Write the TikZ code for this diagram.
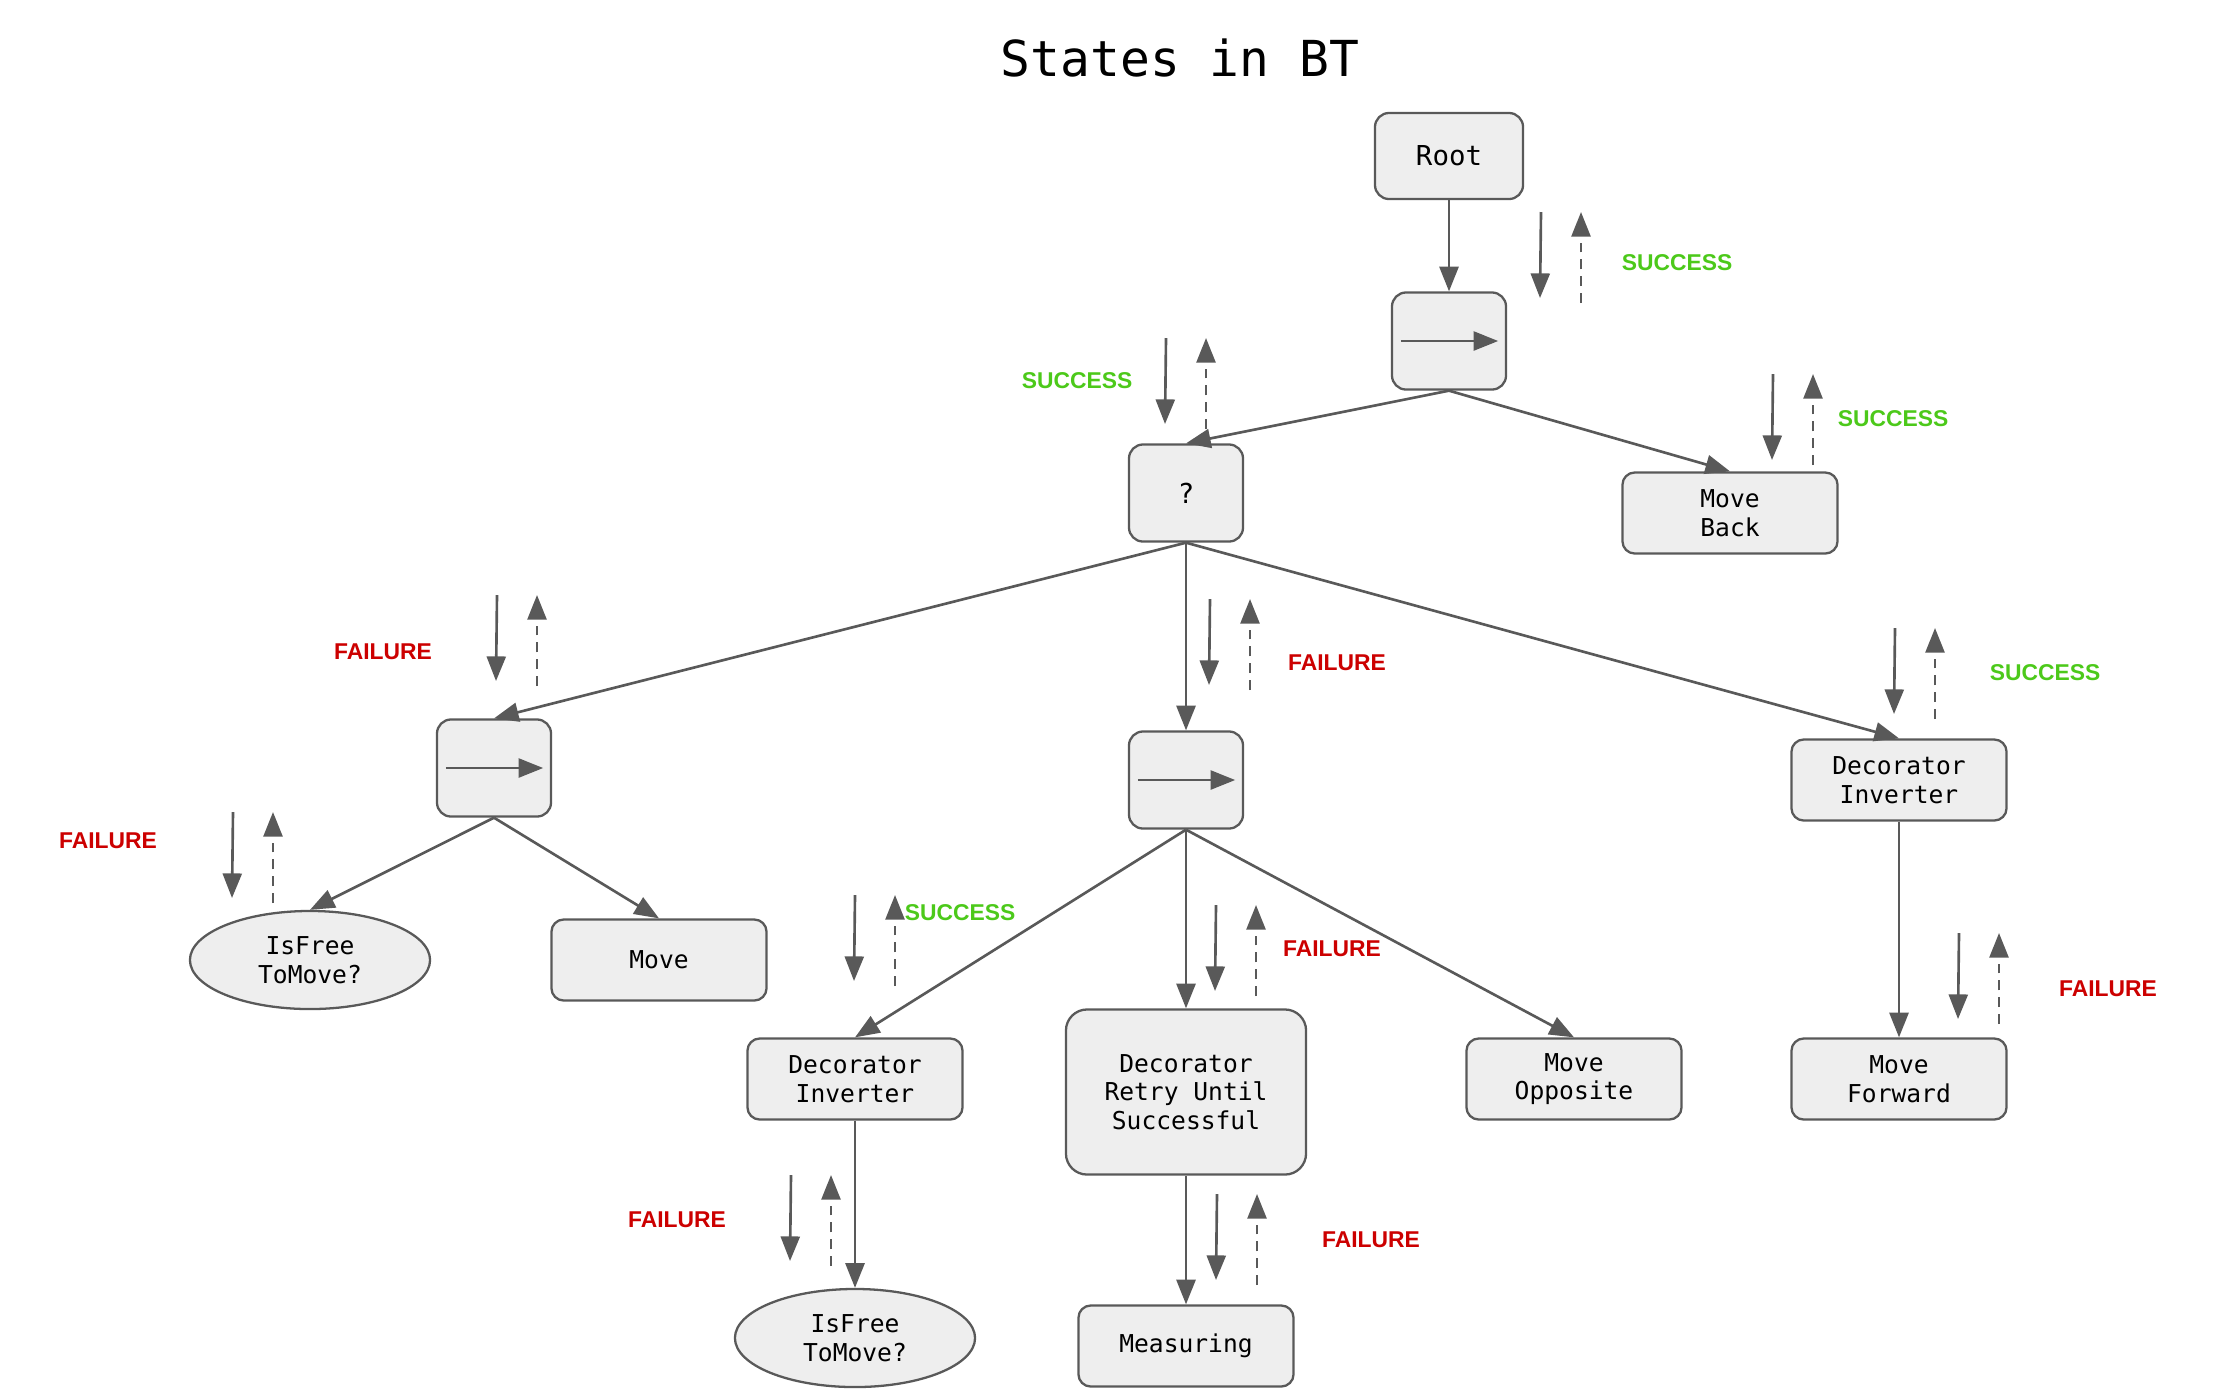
\documentclass[tikz,border=0pt]{standalone}
\usepackage{fontspec}
\usepackage{xcolor}
\usepackage{tikz}
\usetikzlibrary{arrows.meta,calc,shapes.geometric}
\newfontfamily\monofont{DejaVu Sans Mono}
\newfontfamily\labfont{Liberation Sans}
\definecolor{edgegray}{HTML}{595959}
\definecolor{boxfill}{HTML}{EEEEEE}
\definecolor{okgreen}{HTML}{4CC91A}
\definecolor{badred}{HTML}{CC0000}

\tikzset{
  btnode/.style={draw=edgegray,fill=boxfill,line width=0.65pt,align=center,inner sep=0pt,
    font=\monofont\fontsize{7}{8.1}\selectfont},
  leaf/.style={btnode,rounded corners=3.5pt,minimum width=2.15cm,minimum height=0.81cm},
  seqbox/.style={btnode,rounded corners=4pt,minimum width=1.14cm,minimum height=0.97cm},
  cond/.style={btnode,ellipse,minimum width=2.4cm,minimum height=0.98cm},
  edge/.style={draw=edgegray,line width=0.75pt,-{Triangle[length=7pt,width=5.4pt]}},
  okstate/.style={text=okgreen,font=\labfont\bfseries\fontsize{6.5}{7}\selectfont},
  failstate/.style={text=badred,font=\labfont\bfseries\fontsize{6.5}{7}\selectfont}
}

\begin{document}
\begin{tikzpicture}[x=0.01cm,y=-0.01cm]
\useasboundingbox (0,0) rectangle (2227,1399);
\node[font=\monofont\fontsize{14.1}{16}\selectfont] (title) at (1180,58) {States in BT};

% tree
\node[btnode,rounded corners=4pt,minimum width=1.48cm,minimum height=0.86cm,
  font=\monofont\fontsize{7.8}{9}\selectfont] (root) at (1449,156) {Root};
\node[seqbox] (seq1) at (1449,341) {};
\node[seqbox,font=\monofont\fontsize{7.8}{9}\selectfont] (sel) at (1186,493) {?};
\node[leaf] (back) at (1730,513) {Move\\Back};
\node[seqbox] (seq2) at (494,768) {};
\node[seqbox] (seq3) at (1186,780) {};
\node[leaf] (invR) at (1899,780) {Decorator\\Inverter};
\node[cond] (free1) at (310,960) {IsFree\\ToMove?};
\node[leaf] (move) at (659,960) {Move};
\node[leaf] (invM) at (855,1079) {Decorator\\Inverter};
\node[leaf,rounded corners=6pt,minimum width=2.4cm,minimum height=1.65cm] (retry) at (1186,1092) {Decorator\\Retry Until\\Successful};
\node[leaf] (opp) at (1574,1079) {Move\\Opposite};
\node[leaf] (fwd) at (1899,1079) {Move\\Forward};
\node[cond] (free2) at (855,1338) {IsFree\\ToMove?};
\node[leaf] (meas) at (1186,1346) {Measuring};

\draw[edge] (root.south) -- (seq1.north);
\draw[edge] (seq1.south) -- (sel.north);
\draw[edge] (seq1.south) -- (back.north);
\draw[edge] (sel.south) -- (seq2.north);
\draw[edge] (sel.south) -- (seq3.north);
\draw[edge] (sel.south) -- (invR.north);
\draw[edge] (seq2.south) -- (free1.north);
\draw[edge] (seq2.south) -- (move.north);
\draw[edge] (seq3.south) -- (invM.north);
\draw[edge] (seq3.south) -- (retry.north);
\draw[edge] (seq3.south) -- (opp.north);
\draw[edge] (invR.south) -- (fwd.north);
\draw[edge] (invM.south) -- (free2.north);
\draw[edge] (retry.south) -- (meas.north);

% sequence symbols
\foreach \s in {seq1,seq2,seq3}
  \draw[edge] ($(\s.west)+(10,0)$) -- ($(\s.east)+(-9,0)$);

% tick and reply
\foreach \n/\x/\y/\st/\txt/\lx/\ly in {
  1/1541/212/okstate/SUCCESS/1677/263,
  2/1166/338/okstate/SUCCESS/1077/381,
  3/1773/374/okstate/SUCCESS/1893/419,
  4/497/595/failstate/FAILURE/383/652,
  5/1210/599/failstate/FAILURE/1337/663,
  6/1895/628/okstate/SUCCESS/2045/673,
  7/233/812/failstate/FAILURE/108/841,
  8/855/895/okstate/SUCCESS/960/913,
  9/1216/905/failstate/FAILURE/1332/949,
  10/1959/933/failstate/FAILURE/2108/989,
  11/791/1175/failstate/FAILURE/677/1220,
  12/1217/1194/failstate/FAILURE/1371/1240}
{
  \coordinate (down\n) at (\x,\y);
  \coordinate (up\n) at (\x+40,\y+91);
  \draw[edge] (down\n) -- ++(-1,86);
  \draw[edge,dash pattern=on 2.8pt off 2pt] (up\n) -- ++(0,-91);
  \node[\st] (l\n) at (\lx,\ly) {\txt};
}
\end{tikzpicture}
\end{document}
